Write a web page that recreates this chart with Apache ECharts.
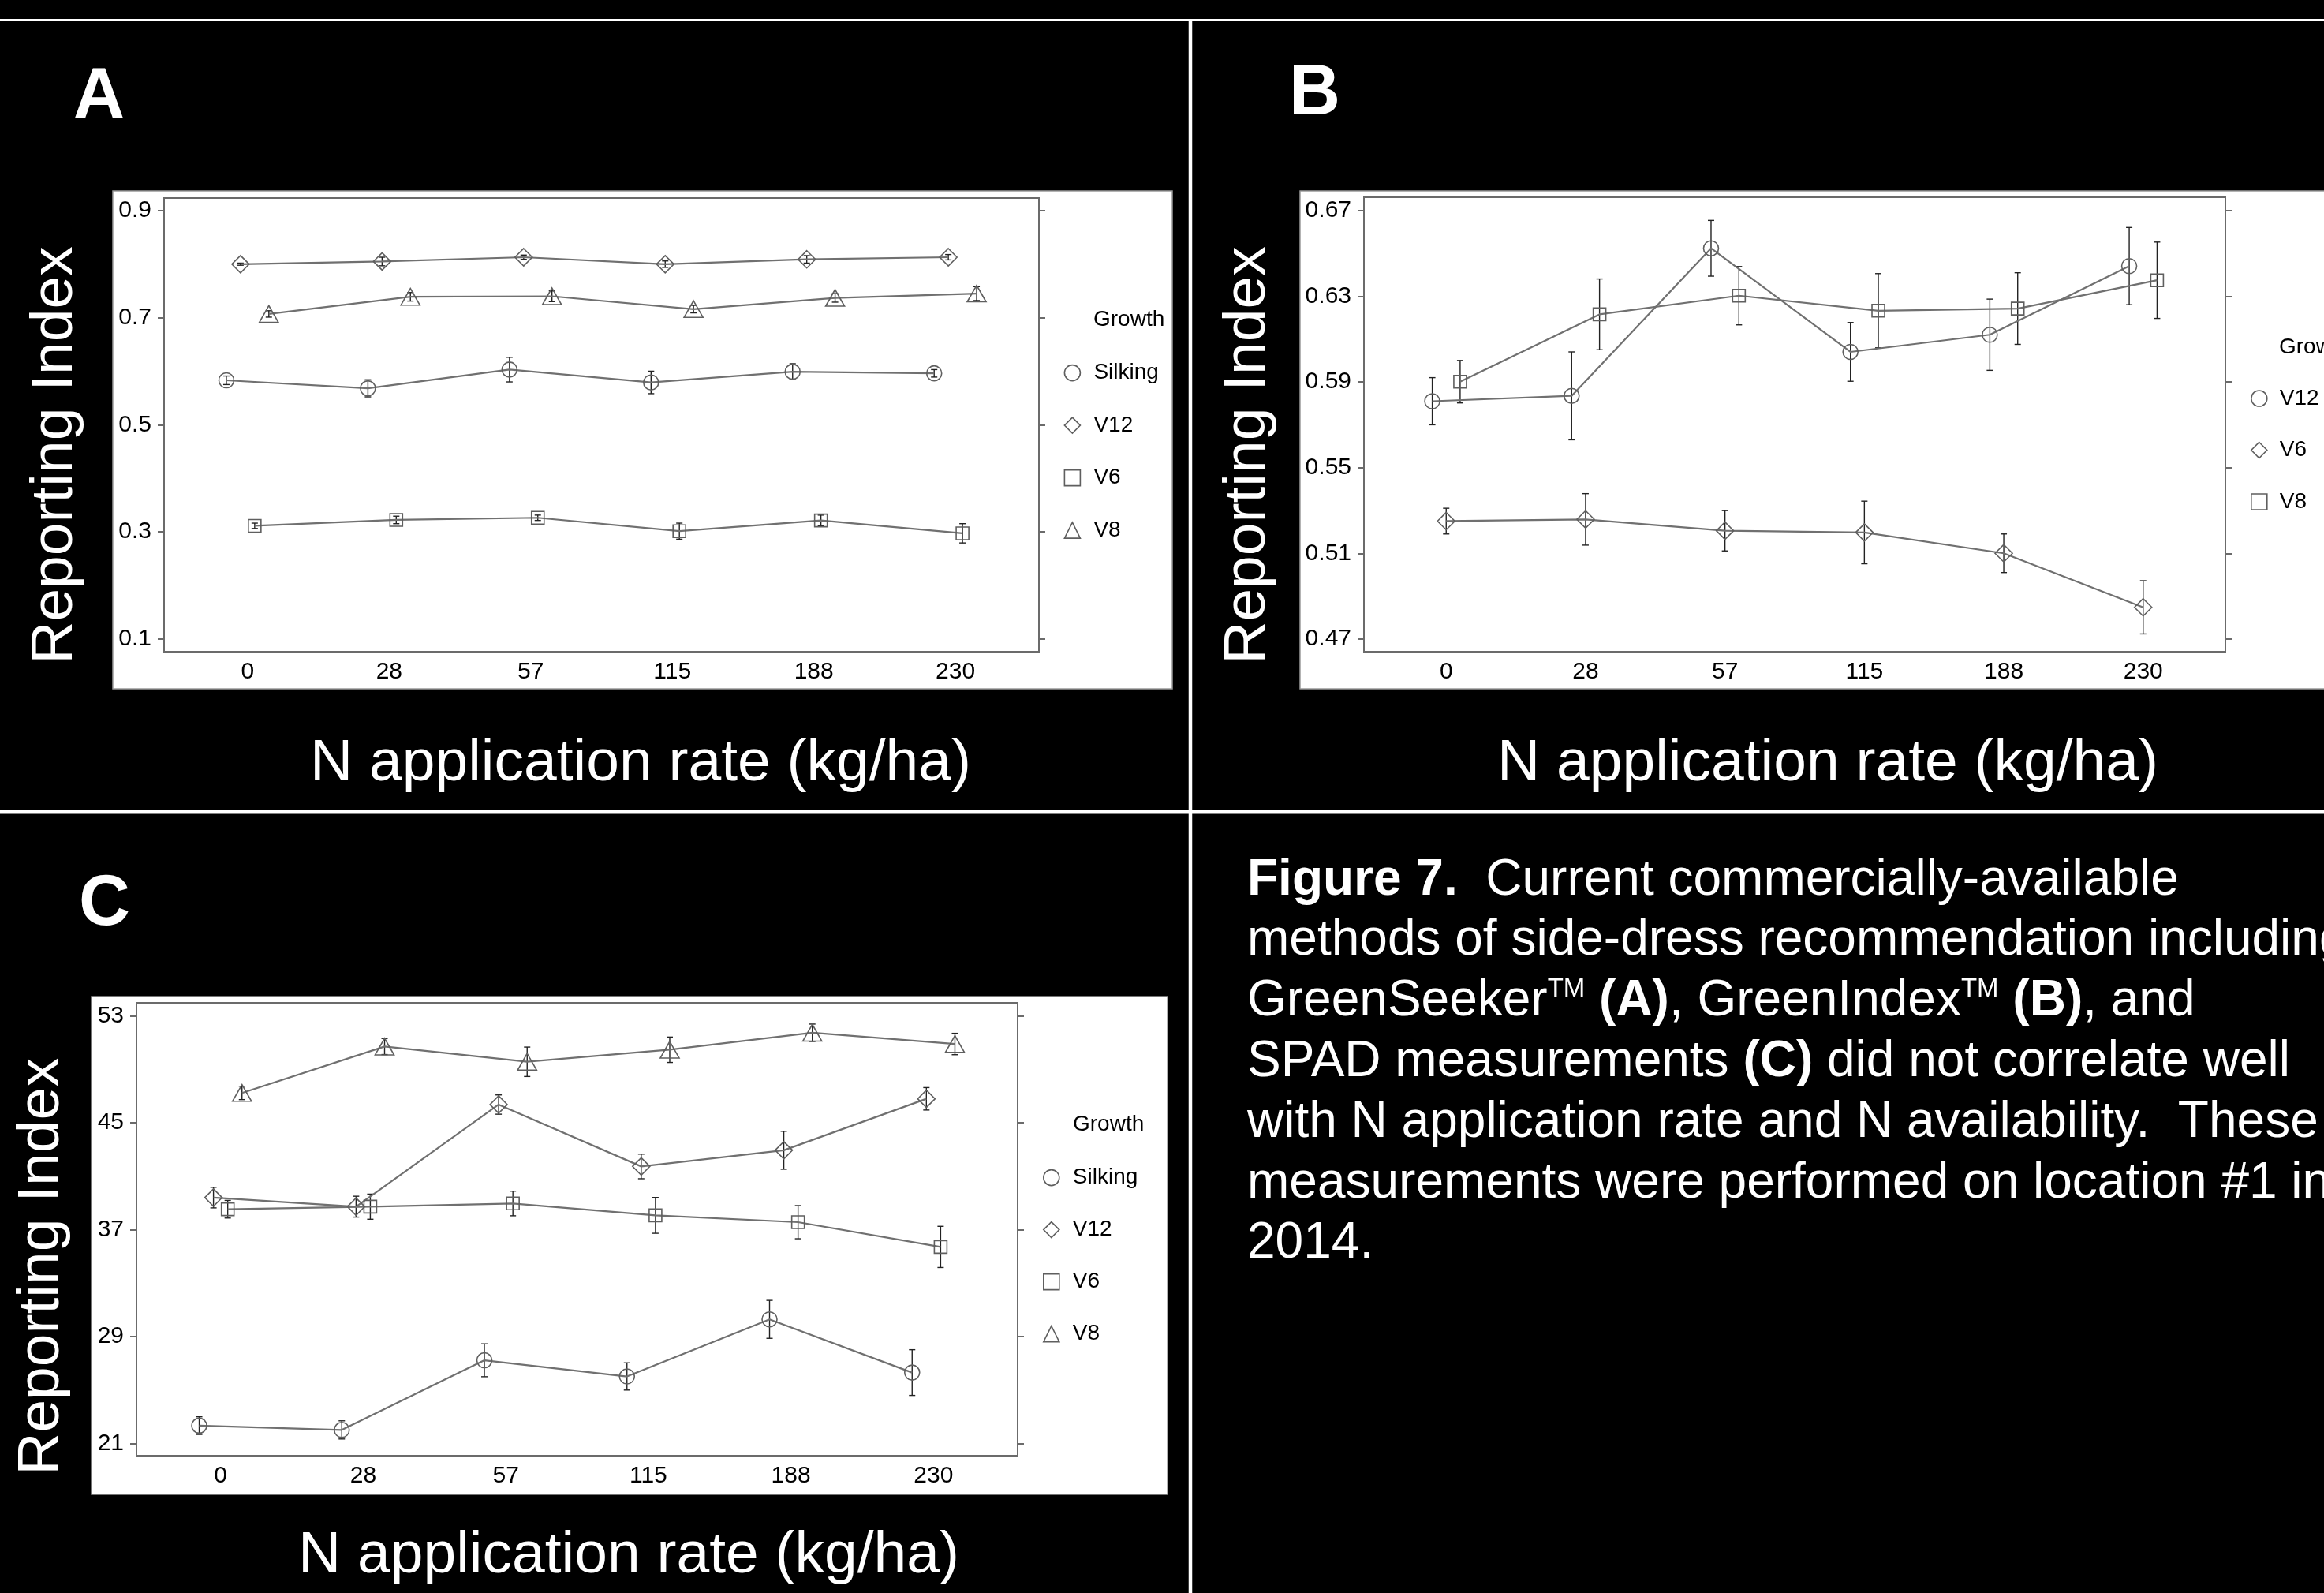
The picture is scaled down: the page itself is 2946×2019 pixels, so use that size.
<!DOCTYPE html>
<html><head><meta charset="utf-8">
<script src="https://cdn.jsdelivr.net/npm/echarts@6/dist/echarts.min.js"></script>
<style>html,body{margin:0;padding:0;background:#000;}#c{width:2946px;height:2019px;}</style>
</head><body><div id="c"></div>
<script>
// ---------- data ----------
const categories = ['0', '28', '57', '115', '188', '230'];
const growthAC = ['Silking', 'V12', 'V6', 'V8'];
const growthB = ['V12', 'V6', 'V8'];
const aTicks = [0.1, 0.3, 0.5, 0.7, 0.9];
const bTicks = [0.47, 0.51, 0.55, 0.59, 0.63, 0.67];
const cTicks = [21, 29, 37, 45, 53];

// Panel A (GreenSeeker)
const aSilking = [0.583, 0.568, 0.603, 0.579, 0.599, 0.596];
const aSilkingErr = [0.008, 0.016, 0.023, 0.021, 0.015, 0.007];
const aV12 = [0.800, 0.805, 0.813, 0.800, 0.809, 0.813];
const aV12Err = [0.002, 0.008, 0.004, 0.006, 0.007, 0.005];
const aV6 = [0.311, 0.322, 0.326, 0.301, 0.321, 0.297];
const aV6Err = [0.005, 0.007, 0.005, 0.015, 0.010, 0.018];
const aV8 = [0.707, 0.739, 0.740, 0.716, 0.737, 0.745];
const aV8Err = [0.006, 0.008, 0.010, 0.007, 0.008, 0.013];

// Panel B (GreenIndex)
const bV12 = [0.581, 0.5835, 0.6523, 0.604, 0.612, 0.644];
const bV12Err = [0.011, 0.0205, 0.013, 0.0137, 0.0166, 0.018];
const bV6 = [0.5251, 0.5259, 0.5206, 0.5198, 0.5101, 0.4849];
const bV6Err = [0.006, 0.012, 0.0094, 0.0146, 0.009, 0.0124];
const bV8 = [0.5901, 0.6215, 0.6302, 0.6232, 0.6242, 0.6374];
const bV8Err = [0.0099, 0.0165, 0.0136, 0.0173, 0.0167, 0.0178];

// Panel C (SPAD)
const cSilking = [22.33, 22.01, 27.22, 26.01, 30.28, 26.30];
const cSilkingErr = [0.66, 0.68, 1.23, 1.02, 1.42, 1.71];
const cV12 = [39.39, 38.71, 46.35, 41.72, 42.93, 46.78];
const cV12Err = [0.77, 0.78, 0.72, 0.92, 1.42, 0.84];
const cV6 = [38.52, 38.71, 38.95, 38.06, 37.55, 35.70];
const cV6Err = [0.66, 0.94, 0.92, 1.34, 1.24, 1.54];
const cV8 = [47.22, 50.69, 49.55, 50.45, 51.72, 50.88];
const cV8Err = [0.5, 0.6, 1.1, 0.95, 0.65, 0.8];

// ---------- layout / style ----------
const FONT = '"Liberation Sans", Arial, sans-serif';
const shapes = ['circle', 'diamond', 'rect', 'triangle'];
const shapeSizes = {circle: 19, diamond: 22, rect: 16, triangle: [24, 21]};
const dodge4 = [-0.15, -0.05, 0.05, 0.15];
const dodge3 = [-0.1, 0, 0.1];
const TICK_FONT = 30;

const panels = [
  {grid: {left: 208, top: 251, width: 1109, height: 575}, yMin: 0.0757, yMax: 0.9236, ticks: aTicks, dec: 1,
   groups: growthAC, values: [aSilking, aV12, aV6, aV8], errs: [aSilkingErr, aV12Err, aV6Err, aV8Err], dodge: dodge4,
   legend: {left: 1348.6, top: 458.6, gap: 38.5, pad: 12}},
  {grid: {left: 1729, top: 250, width: 1092, height: 576}, yMin: 0.4642, yMax: 0.6761, ticks: bTicks, dec: 2,
   groups: growthB, values: [bV12, bV6, bV8], errs: [bV12Err, bV6Err, bV8Err], dodge: dodge3,
   legend: {left: 2853, top: 491, gap: 37.5, pad: 11}},
  {grid: {left: 173, top: 1271, width: 1117, height: 574}, yMin: 20.08, yMax: 53.96, ticks: cTicks, dec: 0,
   groups: growthAC, values: [cSilking, cV12, cV6, cV8], errs: [cSilkingErr, cV12Err, cV6Err, cV8Err], dodge: dodge4,
   legend: {left: 1322, top: 1478.6, gap: 38, pad: 12}}
];

const grids = [], xAxes = [], yAxes = [], series = [], legends = [];
panels.forEach((p, pi) => {
  grids.push(Object.assign({show: true, backgroundColor: '#fff', borderColor: '#6b6b6b', borderWidth: 2}, p.grid));
  xAxes.push({
    type: 'value', gridIndex: pi, min: -0.59, max: 5.59,
    axisLine: {show: false, onZero: false}, axisTick: {show: false}, splitLine: {show: false},
    axisLabel: {customValues: categories.map((c, i) => i), formatter: v => categories[Math.round(v)],
      fontSize: TICK_FONT, color: '#000', fontFamily: FONT, margin: 11}
  });
  const tickCommon = {show: true, inside: false, length: 8, lineStyle: {color: '#6b6b6b', width: 2}, customValues: p.ticks};
  yAxes.push({
    type: 'value', gridIndex: pi, position: 'left', min: p.yMin, max: p.yMax,
    axisLine: {show: false, onZero: false}, splitLine: {show: false}, axisTick: tickCommon,
    axisLabel: {customValues: p.ticks, formatter: v => Number(v).toFixed(p.dec),
      fontSize: TICK_FONT, color: '#000', fontFamily: FONT, margin: 16}
  });
  yAxes.push({
    type: 'value', gridIndex: pi, position: 'right', min: p.yMin, max: p.yMax,
    axisLine: {show: false, onZero: false}, splitLine: {show: false}, axisTick: tickCommon,
    axisLabel: {show: false}
  });
  const yLeft = pi * 2;
  p.groups.forEach((g, gi) => {
    const sym = shapes[gi];
    const dx = p.dodge[gi];
    const vals = p.values[gi], errs = p.errs[gi];
    series.push({
      type: 'custom', name: 'err-' + pi + '-' + g, xAxisIndex: pi, yAxisIndex: yLeft, silent: true, z: 3,
      data: vals.map((v, i) => [i + dx, v - errs[i], v + errs[i]]),
      encode: {x: 0, y: [1, 2]},
      renderItem: (params, api) => {
        const x = api.value(0);
        const lo = api.coord([x, api.value(1)]);
        const hi = api.coord([x, api.value(2)]);
        const cw = 4, st = {stroke: '#222', lineWidth: 1.4};
        return {type: 'group', children: [
          {type: 'line', shape: {x1: lo[0], y1: lo[1], x2: hi[0], y2: hi[1]}, style: st},
          {type: 'line', shape: {x1: lo[0] - cw, y1: lo[1], x2: lo[0] + cw, y2: lo[1]}, style: st},
          {type: 'line', shape: {x1: hi[0] - cw, y1: hi[1], x2: hi[0] + cw, y2: hi[1]}, style: st}
        ]};
      }
    });
    series.push({
      type: 'line', name: g, xAxisIndex: pi, yAxisIndex: yLeft, z: 4,
      data: vals.map((v, i) => [i + dx, v]),
      symbol: sym, symbolSize: shapeSizes[sym], showAllSymbol: true,
      itemStyle: {color: 'rgba(255,255,255,0)', borderColor: '#5f5f5f', borderWidth: 1.6},
      lineStyle: {color: '#707070', width: 2.2},
      emphasis: {disabled: true}
    });
  });
  legends.push({
    orient: 'vertical', left: p.legend.left, top: p.legend.top, padding: 0,
    itemWidth: 20, itemHeight: 20, itemGap: p.legend.gap, selectedMode: false,
    data: p.groups.map((g, gi) => ({name: g, icon: shapes[gi]})),
    itemStyle: {color: 'rgba(255,255,255,0)', borderColor: '#5f5f5f', borderWidth: 1.6},
    textStyle: {fontSize: 28, color: '#000', fontFamily: FONT, padding: [0, 0, 0, p.legend.pad]}
  });
});

// ---------- decorations (slide) ----------
const white = '#fff';
const T = (x, y, text, style, extra) => Object.assign({
  type: 'text', x: x, y: y, z: 10,
  style: Object.assign({text: text, fill: white, fontFamily: FONT, align: 'left', verticalAlign: 'middle'}, style)
}, extra || {});

const graphics = [
  // white panels behind plots
  {type: 'rect', z: -5, shape: {x: 143, y: 242, width: 1343, height: 631}, style: {fill: '#fff', stroke: '#9a9a9a', lineWidth: 1.5}},
  {type: 'rect', z: -5, shape: {x: 1648, y: 242, width: 1310, height: 631}, style: {fill: '#fff', stroke: '#9a9a9a', lineWidth: 1.5}},
  {type: 'rect', z: -5, shape: {x: 116, y: 1263, width: 1364, height: 631}, style: {fill: '#fff', stroke: '#9a9a9a', lineWidth: 1.5}},
  // separator lines
  {type: 'line', z: 10, shape: {x1: 0, y1: 25.5, x2: 2946, y2: 25.5}, style: {stroke: '#fff', lineWidth: 3}},
  {type: 'line', z: 10, shape: {x1: 1509, y1: 25, x2: 1509, y2: 2019}, style: {stroke: '#fff', lineWidth: 4.5}},
  {type: 'line', z: 10, shape: {x1: 0, y1: 1029, x2: 2946, y2: 1029}, style: {stroke: '#fff', lineWidth: 5}},
  // panel letters
  T(93, 124, 'A', {fontSize: 90, fontWeight: 'bold'}),
  T(1634, 120, 'B', {fontSize: 90, fontWeight: 'bold'}),
  T(100, 1147, 'C', {fontSize: 90, fontWeight: 'bold'}),
  // axis titles
  T(812, 968, 'N application rate (kg/ha)', {fontSize: 75, align: 'center'}),
  T(2317, 968, 'N application rate (kg/ha)', {fontSize: 75, align: 'center'}),
  T(797, 1972, 'N application rate (kg/ha)', {fontSize: 75, align: 'center'}),
  T(70, 577, 'Reporting Index', {fontSize: 75, align: 'center'}, {rotation: Math.PI / 2}),
  T(1582, 577, 'Reporting Index', {fontSize: 75, align: 'center'}, {rotation: Math.PI / 2}),
  T(53, 1605, 'Reporting Index', {fontSize: 75, align: 'center'}, {rotation: Math.PI / 2}),
  // legend titles
  T(1386, 405, 'Growth', {fontSize: 28, fill: '#000'}),
  T(2889, 440, 'Growth', {fontSize: 28, fill: '#000'}),
  T(1360, 1425, 'Growth', {fontSize: 28, fill: '#000'})
];

const captionLines = [
  '{b|Figure 7.}  Current commercially-available',
  'methods of side-dress recommendation including',
  'GreenSeeker{s|TM} {b|(A)}, GreenIndex{s|TM} {b|(B)}, and',
  'SPAD measurements {b|(C)} did not correlate well',
  'with N application rate and N availability.  These',
  'measurements were performed on location #1 in',
  '2014.'
];
const CAP = 64;
captionLines.forEach((line, k) => {
  graphics.push({
    type: 'text', x: 1581, y: 1116 + k * 76.8, z: 10,
    style: {
      text: line, fill: '#fff', fontSize: CAP, fontFamily: FONT, lineHeight: CAP,
      align: 'left', verticalAlign: 'middle',
      rich: {
        b: {fontSize: CAP, fontWeight: 'bold', fill: '#fff', fontFamily: FONT, lineHeight: CAP, verticalAlign: 'middle'},
        s: {fontSize: 33, fill: '#fff', fontFamily: FONT, lineHeight: 33, verticalAlign: 'top'}
      }
    }
  });
});

const chart = echarts.init(document.getElementById('c'), null, {renderer: 'canvas'});
chart.setOption({
  backgroundColor: '#000',
  animation: false,
  grid: grids, xAxis: xAxes, yAxis: yAxes, series: series, legend: legends,
  graphic: {elements: graphics}
});
</script></body></html>
